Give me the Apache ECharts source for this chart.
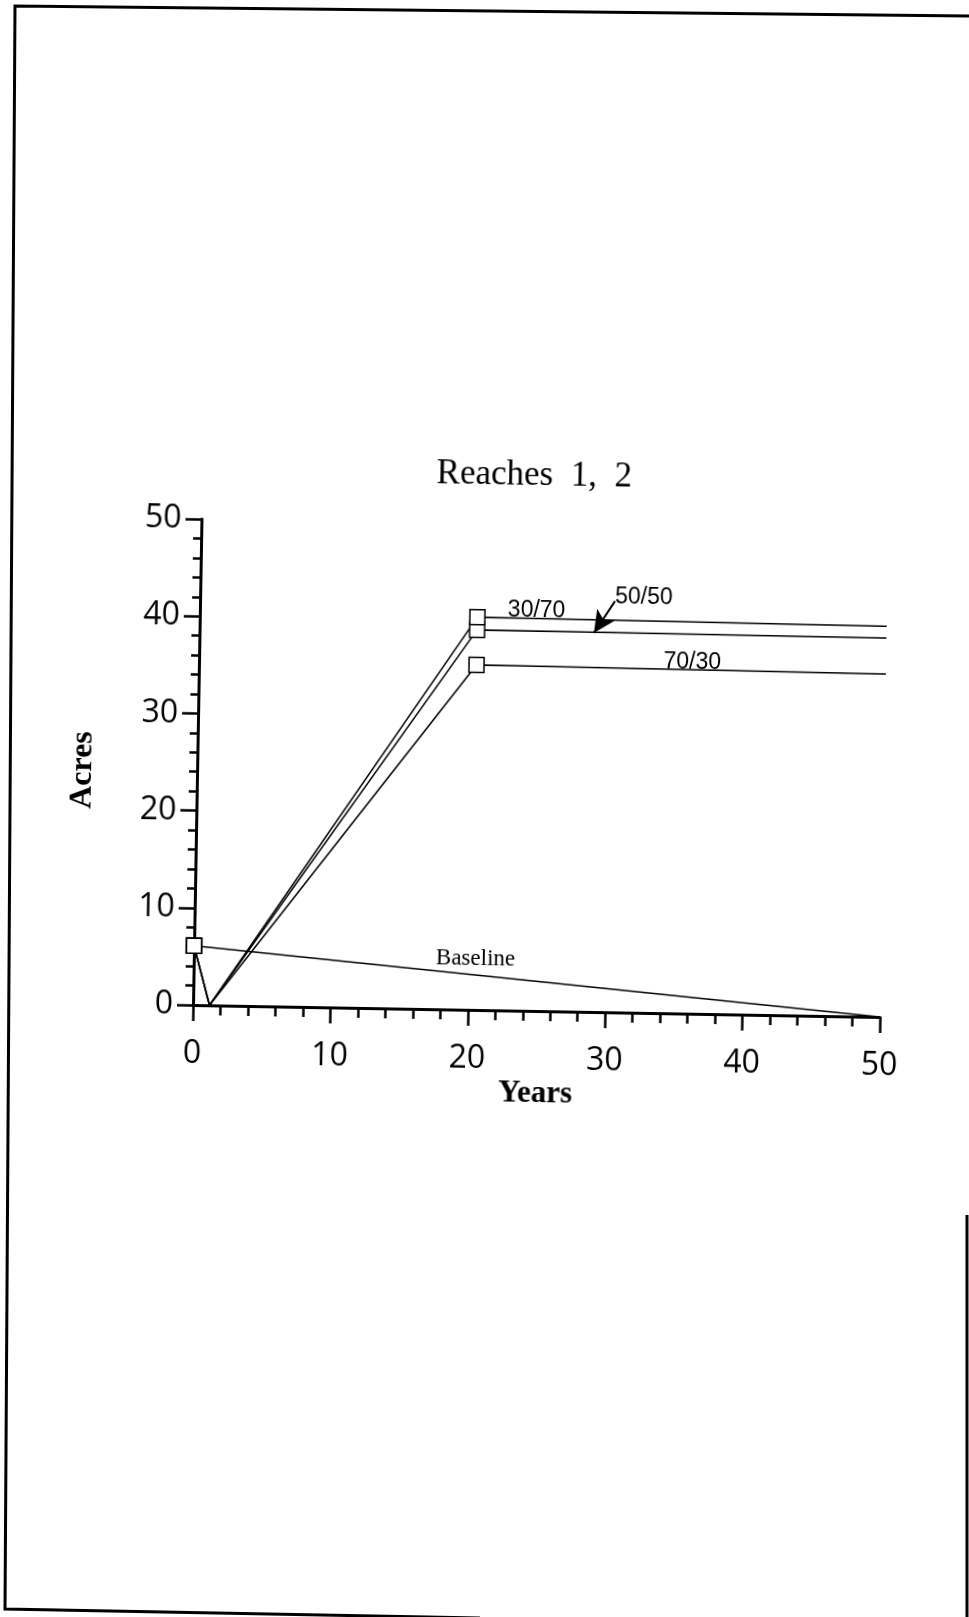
<!DOCTYPE html>
<html>
<head>
<meta charset="utf-8">
<script src="https://cdn.jsdelivr.net/npm/echarts@6/dist/echarts.min.js"></script>
<style>
  html, body { margin: 0; padding: 0; background: #fff; overflow: hidden; }
  #frame { position: absolute; left: 0; top: 0; width: 969px; height: 1617px; }
  #chart { position: absolute; left: 0; top: 0; width: 969px; height: 1617px;
           transform-origin: 193px 1005px; transform: rotate(1deg); }
</style>
</head>
<body>
<div id="frame"></div>
<div id="chart"></div>
<script>
// ---- data ----
const scenarioYears = [0, 1.2, 20.2, 50];
const acres3070 = [6.1, 0, 40.4, 40.2];
const acres5050 = [6.1, 0, 39.1, 39.0];
const acres7030 = [6.1, 0, 35.5, 35.3];
const baselineYears = [0, 50];
const baselineAcres = [6.1, 0];
const xTicks = [0, 10, 20, 30, 40, 50];
const yTicks = [0, 10, 20, 30, 40, 50];
// line annotations (text, year, acres)
const labelTexts = ['30/70', '50/50', '70/30'];
const labelYears = [24.5, 32.3, 35.9];
const labelAcres = [41.2, 42.7, 36.1];
const baselineLabel = { text: 'Baseline', year: 20.5, acres: 5.3 };
const arrowFrom = [30.2, 42.3];
const arrowTo = [28.7, 39.0];

const pairs = (xs, ys) => xs.map((x, i) => [x, ys[i]]);
const markerIdx = [0, 2];

// ---- page frame (scanned border) ----
const frame = echarts.init(document.getElementById('frame'), null, { renderer: 'canvas' });
frame.setOption({
  graphic: [
    { type: 'polyline', shape: { points: [[969, 16], [15, 6], [5, 1609], [480, 1618]] },
      style: { stroke: '#000', lineWidth: 3, fill: null } },
    { type: 'line', shape: { x1: 967, y1: 1215, x2: 967, y2: 1617 },
      style: { stroke: '#000', lineWidth: 3 } }
  ]
});

// ---- chart ----
const chart = echarts.init(document.getElementById('chart'), null, { renderer: 'canvas' });

const sansDigits = '"Open Sans", "DejaVu Sans", sans-serif';
const serif = '"Liberation Serif", "DejaVu Serif", serif';
const labelFont = '"Liberation Sans Narrow", "Liberation Sans", Arial, sans-serif';

function scenarioSeries(name, values, extra) {
  return Object.assign({
    name: name,
    type: 'line',
    data: pairs(scenarioYears, values),
    symbol: (v, p) => markerIdx.includes(p.dataIndex) ? 'rect' : 'none',
    symbolSize: 15,
    showSymbol: true,
    lineStyle: { color: '#000', width: 1.5 },
    itemStyle: { color: '#fff', borderColor: '#000', borderWidth: 1.5 },
    z: 3
  }, extra || {});
}

function textMark(text, year, acres, font, size) {
  return {
    symbol: 'circle', symbolSize: 0, silent: true,
    label: { show: true, position: 'inside', formatter: text, color: '#000',
             fontFamily: font, fontSize: size },
    data: [{ coord: [year, acres] }]
  };
}

chart.setOption({
  animation: false,
  grid: { left: 193, top: 519, width: 687, height: 486 },
  graphic: [
    { type: 'text', x: 525, y: 470,
      style: { text: 'Reaches  1,  2', textAlign: 'center', textVerticalAlign: 'middle',
               fontFamily: serif, fontSize: 35, fill: '#000' } },
    { type: 'text', x: 79, y: 772, rotation: Math.PI / 2,
      style: { text: 'Acres', textAlign: 'center', textVerticalAlign: 'middle',
               fontFamily: serif, fontWeight: 'bold', fontSize: 32, fill: '#000' } }
  ],
  xAxis: {
    type: 'value', min: xTicks[0], max: xTicks[xTicks.length - 1], interval: 10,
    name: 'Years', nameLocation: 'middle', nameGap: 67,
    nameTextStyle: { fontFamily: serif, fontWeight: 'bold', fontSize: 31, color: '#000' },
    axisLine: { show: true, onZero: false, lineStyle: { color: '#000', width: 3 } },
    axisTick: { show: true, inside: false, length: 16, lineStyle: { color: '#000', width: 2.5 } },
    minorTick: { show: true, splitNumber: 5, length: 10, lineStyle: { color: '#000', width: 2.5 } },
    axisLabel: { margin: 33, fontFamily: sansDigits, fontSize: 32, color: '#000' },
    splitLine: { show: false }
  },
  yAxis: {
    type: 'value', min: yTicks[0], max: yTicks[yTicks.length - 1], interval: 10,
    axisLine: { show: true, onZero: false, lineStyle: { color: '#000', width: 3 } },
    axisTick: { show: true, inside: false, length: 16, lineStyle: { color: '#000', width: 2.5 } },
    minorTick: { show: true, splitNumber: 5, length: 8, lineStyle: { color: '#000', width: 2.5 } },
    axisLabel: { margin: 20, fontFamily: sansDigits, fontSize: 32, color: '#000' },
    splitLine: { show: false }
  },
  series: [
    {
      name: 'Baseline', type: 'line',
      data: pairs(baselineYears, baselineAcres),
      symbol: 'none',
      lineStyle: { color: '#000', width: 1.5 },
      markPoint: textMark(baselineLabel.text, baselineLabel.year, baselineLabel.acres, serif, 23),
      z: 2
    },
    scenarioSeries('70/30', acres7030, {
      markPoint: textMark(labelTexts[2], labelYears[2], labelAcres[2], labelFont, 23)
    }),
    scenarioSeries('50/50', acres5050, {
      markPoint: textMark(labelTexts[1], labelYears[1], labelAcres[1], labelFont, 23),
      markLine: {
        silent: true, symbol: ['none', 'arrow'], symbolSize: [16, 22],
        lineStyle: { color: '#000', width: 2, type: 'solid' },
        label: { show: false },
        data: [[{ coord: arrowFrom }, { coord: arrowTo }]]
      }
    }),
    scenarioSeries('30/70', acres3070, {
      markPoint: textMark(labelTexts[0], labelYears[0], labelAcres[0], labelFont, 23)
    })
  ]
});
</script>
</body>
</html>
